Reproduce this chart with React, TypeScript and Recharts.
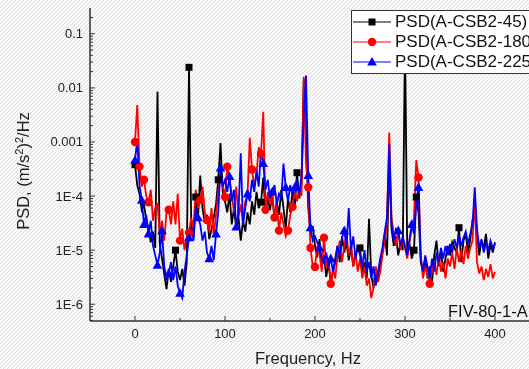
import React from 'react';
import { LineChart, Line, XAxis, YAxis, Legend } from 'recharts';

// spectra sampled every 2.5 Hz from 0 to 400 Hz
const FREQ_STEP = 2.5;

const psd45 = [
  3.8e-4, 1.6e-4, 1.1e-4, 5.5e-5, 7e-5, 3.5e-5, 2.6e-5, 1.4e-5, 2.2e-5, 1.1e-5,
  8.5e-3, 1.3e-5, 7e-6, 3.6e-6, 1.9e-6, 4.5e-6, 2.6e-6, 5e-6, 1e-5, 4e-6,
  2.8e-6, 4.5e-6, 2.2e-6, 6e-6, 2.4e-2, 3e-5, 1.8e-5, 9.6e-5, 4e-5, 2.4e-4,
  6e-5, 3.2e-5, 4.5e-5, 1.6e-5, 2.4e-5, 4e-5, 7e-5, 2e-4, 9.6e-4, 1.2e-4,
  8e-5, 5e-5, 1.1e-4, 3e-5, 6e-5, 2.5e-5, 4e-5, 1.5e-5, 3.5e-5, 2.2e-5,
  5e-5, 3e-5, 8e-5, 4.5e-5, 1.2e-4, 6e-5, 7.7e-5, 2.2e-4, 5e-5, 9e-5,
  5.5e-5, 1.1e-4, 3.5e-5, 8e-5, 4.5e-5, 1.3e-4, 6e-5, 2.5e-5, 9e-5, 5e-5,
  1.2e-4, 6e-5, 2.7e-4, 9e-5, 1.6e-4, 1.45e-2, 1.5e-3, 6e-5, 2e-5, 2.8e-5,
  1.2e-5, 7.4e-6, 1.6e-5, 5e-6, 8e-6, 3.2e-6, 6e-6, 2.4e-6, 4e-6, 7e-6,
  1.2e-5, 6e-6, 1.8e-5, 9e-6, 1.4e-5, 6.5e-6, 1.1e-5, 5e-6, 8e-6, 1.1e-5,
  1.1e-5, 4e-6, 6e-6, 3e-6, 3.8e-5, 3.5e-6, 2e-6, 4.5e-6, 2.6e-6, 6e-6,
  1e-5, 2e-5, 8e-6, 5e-4, 2.5e-5, 1.2e-5, 1.8e-5, 8e-6, 1.4e-5, 1e-5,
  8e-2, 9e-6, 1.3e-5, 7e-6, 1e-5, 9.6e-5, 5e-5, 6e-6, 4e-6, 7e-6,
  3e-6, 5e-6, 2.5e-6, 8e-6, 1.5e-5, 5e-6, 1e-5, 4e-6, 7e-6, 1.2e-5,
  8e-6, 1.4e-5, 1.1e-5, 9e-6, 2.6e-5, 6e-6, 1.5e-5, 2e-5, 9e-6, 1.6e-5,
  3.5e-5, 6e-5, 2e-5, 8e-6, 1.5e-5, 1.1e-5, 2e-5, 7e-6, 1.3e-5, 9e-6, 1.4e-5,
];

const psd180 = [
  1e-3, 4.8e-3, 3.5e-4, 1.5e-4, 2e-4, 1e-4, 7.7e-5, 1.3e-4, 3.5e-5, 6e-5,
  7.4e-5, 2e-5, 3.5e-5, 1.5e-5, 5e-5, 5.6e-5, 3e-5, 8e-5, 3e-5, 1.1e-4,
  1.5e-5, 2.5e-5, 1e-5, 1.8e-5, 2.1e-5, 4e-5, 2.5e-5, 1.3e-4, 6e-5, 8.4e-5,
  1.5e-4, 5e-5, 3.6e-5, 2.2e-5, 6e-5, 1.8e-5, 4.5e-5, 1.2e-4, 2.5e-4, 1.5e-4,
  9.6e-5, 3.5e-4, 2e-4, 1.1e-4, 5e-5, 1.5e-4, 4e-5, 7e-5, 3e-5, 8e-5,
  1e-4, 1.2e-3, 3.1e-4, 1.5e-4, 2.5e-4, 8e-4, 6e-4, 3.6e-3, 5.6e-5, 1.2e-4,
  7e-5, 1.1e-4, 4e-5, 7e-5, 2.3e-5, 5e-5, 3e-5, 1.8e-5, 2.3e-5, 4.5e-5,
  6.3e-5, 1.2e-4, 8e-5, 1.5e-4, 1e-4, 1.6e-2, 4e-4, 1.45e-4, 1.1e-5, 5e-6,
  4.9e-6, 1.2e-5, 8.7e-6, 4e-6, 1.7e-5, 4.9e-6, 7e-6, 2.4e-6, 4.5e-6, 3e-6,
  8e-6, 1.5e-5, 6e-6, 1.2e-5, 2e-5, 8e-6, 1.3e-5, 5e-6, 9e-6, 4e-6,
  7e-6, 3e-6, 5e-6, 2.2e-6, 3e-6, 1.3e-6, 2e-6, 5e-6, 2.6e-6, 4e-6,
  8e-6, 1.5e-5, 3e-5, 1.5e-3, 4e-5, 2e-5, 1.2e-5, 2.5e-5, 1e-5, 1.6e-5,
  1.1e-5, 7e-6, 1.4e-5, 2.5e-5, 4e-5, 4.6e-4, 2.2e-4, 8e-6, 3e-6, 5e-6,
  3.5e-6, 2.4e-6, 4e-6, 6e-6, 3.5e-6, 8e-6, 4e-6, 6e-6, 3e-6, 7e-6,
  5e-6, 9e-6, 4.5e-6, 1.1e-5, 6e-6, 1e-5, 5.5e-6, 1.2e-5, 7e-6, 1.1e-5,
  1.5e-5, 8.4e-5, 6e-6, 3.7e-6, 5e-6, 2.8e-6, 4.5e-6, 3.2e-6, 5.5e-6, 3e-6, 4e-6,
];

const psd225 = [
  4.6e-4, 1.1e-3, 1.6e-4, 8.4e-5, 3e-5, 4.5e-5, 2e-5, 3.5e-5, 1.2e-5, 8e-6,
  5.3e-6, 9e-6, 2.3e-5, 5e-6, 3e-6, 3.7e-6, 6e-6, 2.8e-6, 5e-6, 2.2e-6,
  1.6e-6, 1.3e-6, 4e-6, 8e-6, 1.7e-5, 2.7e-5, 1.5e-5, 6e-5, 4e-5, 3e-5,
  1.5e-5, 2.2e-5, 9e-6, 7e-6, 1.2e-5, 6.5e-6, 2e-5, 5e-5, 3.3e-4, 1.5e-4,
  2e-4, 1.2e-4, 2.3e-4, 8e-5, 1.3e-4, 2.7e-5, 5e-5, 6.2e-4, 3e-5, 6e-5,
  1.1e-4, 8e-5, 2e-4, 1.2e-4, 3e-4, 1.5e-4, 7e-4, 4e-4, 1.3e-4, 2e-4,
  9e-5, 1.2e-4, 1.6e-4, 7e-5, 1.1e-4, 9e-5, 4e-4, 1.45e-4, 8e-5, 1.6e-4,
  1e-4, 1.45e-4, 2e-4, 1.1e-4, 2.4e-4, 3e-3, 1.7e-2, 2.4e-4, 2.6e-5, 1.5e-5,
  1.8e-5, 1.4e-5, 1.1e-5, 7e-6, 5.8e-6, 9e-6, 5e-6, 7e-6, 4e-6, 6e-6,
  1.2e-5, 8e-6, 1.7e-5, 2.3e-5, 1.2e-5, 6e-5, 1e-5, 1.8e-5, 7e-6, 1.2e-5,
  8e-6, 5e-6, 1e-5, 4e-6, 6e-6, 3e-6, 5e-6, 2.2e-6, 4e-6, 7e-6,
  1.1e-5, 2.2e-5, 4e-5, 9e-4, 3e-5, 1.5e-5, 2.5e-5, 2.3e-5, 1.2e-5, 1.8e-5,
  1.2e-5, 8e-6, 1.6e-5, 3e-5, 2e-5, 8e-5, 1.45e-4, 7e-6, 4e-6, 8e-6,
  5e-6, 3e-6, 7e-6, 4e-6, 9e-6, 6e-6, 1.1e-5, 7e-6, 1.2e-5, 8e-6,
  1.3e-5, 9e-6, 1.6e-5, 1.1e-5, 1.9e-5, 1.2e-5, 1.7e-5, 2.2e-5, 1.3e-5, 2e-5,
  3e-5, 1.45e-4, 2.5e-5, 1.1e-5, 1.6e-5, 9e-6, 1.4e-5, 1e-5, 1.5e-5, 1.1e-5, 1.3e-5,
];

// frequencies (Hz) where Origin drew the symbols
const marks45 = [0, 45, 60, 67.5, 92.5, 140, 180, 250, 310, 312.5, 360];
const marks180 = [0, 5, 10, 15, 37.5, 50, 60, 72.5, 80, 100, 102.5, 130, 140, 145, 155, 160, 170, 175, 192.5, 195, 200, 210, 217.5, 315, 327.5];
const marks225 = [0, 7.5, 10, 15, 25, 30, 37.5, 50, 60, 70, 82.5, 90, 95, 105, 112.5, 125, 142.5, 152.5, 167.5, 177.5, 192.5, 195, 205, 217.5, 232.5, 292.5, 307.5, 315];

const seriesNames = ['PSD(A-CSB2-45)', 'PSD(A-CSB2-180)', 'PSD(A-CSB2-225)'];
const seriesColors = ['#000000', '#ff0000', '#0000ff'];

const xMajorTicks = [0, 100, 200, 300, 400];
const xMinorTicks = [50, 150, 250, 350];
const yMajorTicks = [1e-6, 1e-5, 1e-4, 1e-3, 1e-2, 1e-1];
const yTickLabels = ['1E-6', '1E-5', '1E-4', '0.001', '0.01', '0.1'];

const FONT = 'Arial, "Liberation Sans", sans-serif';
const AXIS = '#333';

const HATCH =
  "url(\"data:image/svg+xml;utf8,<svg xmlns='http://www.w3.org/2000/svg' width='4' height='4'>" +
  "<rect width='4' height='4' fill='%23f8f8f8'/>" +
  "<path d='M-1,1 l2,-2 M0,4 l4,-4 M3,5 l2,-2' stroke='%23e0e0e0' stroke-width='1'/></svg>\")";

const rows = psd45.map((v, i) => ({
  f: i * FREQ_STEP,
  a: v,
  b: psd180[i],
  c: psd225[i],
}));

const yMinorTicks: number[] = [];
[1e-7, ...yMajorTicks].forEach(d => {
  for (let k = 2; k <= 9; k++) {
    const t = d * k;
    if (t > 4.9e-7 && t < 0.3) yMinorTicks.push(t);
  }
});
const yAllTicks = [...yMajorTicks, ...yMinorTicks].sort((p, q) => p - q);

const majorIndex = (v: number) =>
  yMajorTicks.findIndex(m => Math.abs(Math.log10(m) - Math.log10(v)) < 1e-6);

const YTick = (props: any) => {
  const { x, y, payload } = props;
  const ax = x + 7;
  const mi = majorIndex(payload.value);
  return (
    <g>
      <line x1={ax} x2={ax + (mi >= 0 ? 5 : 3)} y1={y} y2={y} stroke={AXIS} strokeWidth={1} />
      {mi >= 0 && (
        <text x={x} y={y + 4.5} textAnchor="end" fontSize={13} fontFamily={FONT} fill="#222">
          {yTickLabels[mi]}
        </text>
      )}
    </g>
  );
};

const XTick = (props: any) => {
  const { x, y, payload } = props;
  const major = xMajorTicks.includes(payload.value);
  return (
    <g>
      <line x1={x} x2={x} y1={y} y2={y - (major ? 5 : 3)} stroke={AXIS} strokeWidth={1} />
      {major && (
        <text x={x} y={y + 16.5} textAnchor="middle" fontSize={13} fontFamily={FONT} fill="#222">
          {payload.value}
        </text>
      )}
    </g>
  );
};

const Symbol = ({ kind, cx, cy, color }: { kind: number; cx: number; cy: number; color: string }) => {
  if (kind === 0) return <rect x={cx - 3.5} y={cy - 3.5} width={7} height={7} fill={color} />;
  if (kind === 1) return <circle cx={cx} cy={cy} r={4.2} fill={color} />;
  return (
    <polygon
      points={`${cx},${cy - 5} ${cx - 4.8},${cy + 3.6} ${cx + 4.8},${cy + 3.6}`}
      fill={color}
    />
  );
};

const makeDot = (marks: number[], kind: number) => (props: any) => {
  const { cx, cy, payload, index } = props;
  if (cx == null || cy == null || !marks.includes(payload.f)) return <g key={`n-${kind}-${index}`} />;
  return (
    <g key={`m-${kind}-${index}`}>
      <Symbol kind={kind} cx={cx} cy={cy} color={seriesColors[kind]} />
    </g>
  );
};

const LegendBox = () => (
  <div
    style={{
      background: '#fff',
      border: `1.5px solid ${AXIS}`,
      padding: '1px 40px 1px 1px',
      fontFamily: FONT,
      fontSize: 17,
      lineHeight: '20px',
      color: '#111',
      whiteSpace: 'nowrap',
    }}
  >
    {seriesNames.map((name, k) => (
      <div key={name} style={{ display: 'flex', alignItems: 'center', height: 20 }}>
        <svg width={38} height={20} style={{ display: 'block' }}>
          <line x1={0} x2={38} y1={10} y2={10} stroke={seriesColors[k]} strokeWidth={1} />
          <Symbol kind={k} cx={19} cy={10} color={seriesColors[k]} />
        </svg>
        <span style={{ marginLeft: 4 }}>{name}</span>
      </div>
    ))}
  </div>
);

const YLabel = () => (
  <text
    transform="translate(29,171) rotate(-90)"
    textAnchor="middle"
    fontSize={16.5}
    fontFamily={FONT}
    fill="#222"
  >
    PSD, (m/s<tspan dy={-6} fontSize={11}>2</tspan>
    <tspan dy={6}>)</tspan>
    <tspan dy={-6} fontSize={11}>2</tspan>
    <tspan dy={6}>/Hz</tspan>
  </text>
);

const XLabel = () => (
  <text x={308} y={364} textAnchor="middle" fontSize={16.5} fontFamily={FONT} fill="#222">
    Frequency, Hz
  </text>
);

export default function App() {
  return (
    <div
      style={{
        position: 'fixed',
        left: 0,
        top: 0,
        width: 529,
        height: 369,
        overflow: 'hidden',
        backgroundImage: HATCH,
      }}
    >
      <LineChart width={560} height={369} data={rows} margin={{ top: 8, right: 20, bottom: 0, left: 0 }}>
        <XAxis
          dataKey="f"
          type="number"
          domain={[-50, 450]}
          allowDataOverflow
          ticks={[...xMajorTicks, ...xMinorTicks]}
          interval={0}
          tickSize={0}
          tickMargin={0}
          tickLine={false}
          tick={<XTick />}
          height={48}
          stroke={AXIS}
          strokeWidth={1.5}
          label={<XLabel />}
        />
        <XAxis
          xAxisId="top"
          orientation="top"
          dataKey="f"
          type="number"
          domain={[-50, 450]}
          height={0}
          tick={false}
          tickLine={false}
          stroke={AXIS}
          strokeWidth={1.5}
        />
        <YAxis
          scale="log"
          type="number"
          domain={[4.9e-7, 0.3]}
          allowDataOverflow
          ticks={yAllTicks}
          interval={0}
          width={90}
          tickSize={0}
          tickMargin={7}
          tickLine={false}
          tick={<YTick />}
          stroke={AXIS}
          strokeWidth={1.5}
          label={<YLabel />}
        />
        <Legend
          layout="vertical"
          align="center"
          verticalAlign="middle"
          content={<LegendBox />}
          wrapperStyle={{ position: 'absolute', left: 351, top: 10, width: 'auto' }}
        />
        <Line
          name={seriesNames[0]}
          dataKey="a"
          stroke={seriesColors[0]}
          strokeWidth={1.8}
          dot={makeDot(marks45, 0)}
          activeDot={false}
          isAnimationActive={false}
        />
        <Line
          name={seriesNames[1]}
          dataKey="b"
          stroke={seriesColors[1]}
          strokeWidth={1.8}
          dot={makeDot(marks180, 1)}
          activeDot={false}
          isAnimationActive={false}
        />
        <Line
          name={seriesNames[2]}
          dataKey="c"
          stroke={seriesColors[2]}
          strokeWidth={1.8}
          dot={makeDot(marks225, 2)}
          activeDot={false}
          isAnimationActive={false}
        />
      </LineChart>
      <div
        style={{
          position: 'absolute',
          left: 448,
          top: 302,
          fontFamily: FONT,
          fontSize: 16.5,
          lineHeight: '18px',
          color: '#111',
          whiteSpace: 'nowrap',
        }}
      >
        FIV-80-1-A
      </div>
    </div>
  );
}
